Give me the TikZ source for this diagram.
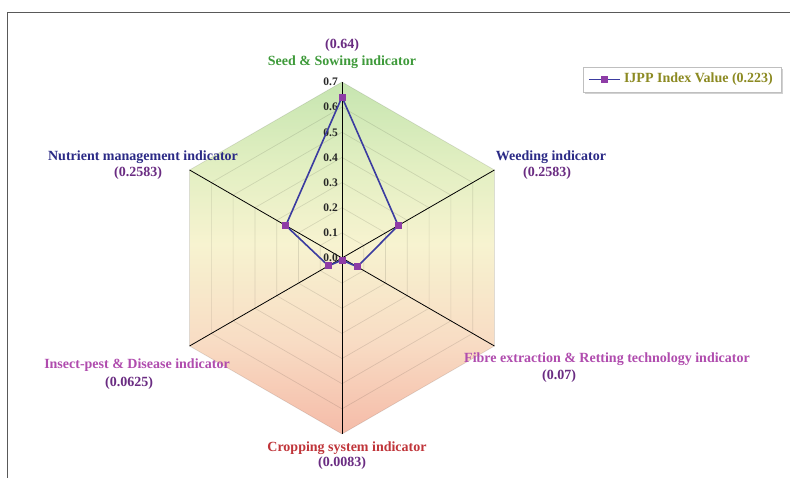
\documentclass[tikz,border=0pt]{standalone}
\usepackage{fontspec}
\setmainfont{Liberation Serif}
\usetikzlibrary{calc}
\definecolor{seedgreen}{HTML}{3E9A3A}
\definecolor{valpurple}{HTML}{6A2C82}
\definecolor{navyblue}{HTML}{2B2A86}
\definecolor{magentalab}{HTML}{B04CAE}
\definecolor{cropred}{HTML}{C0353A}
\definecolor{legolive}{HTML}{8C8A22}
\definecolor{lineblue}{HTML}{3B3CA0}
\definecolor{markpurple}{HTML}{8E3CA6}
\definecolor{topgreen}{HTML}{C6E5B0}
\definecolor{uppergreen}{HTML}{E2EFC2}
\definecolor{midyellow}{HTML}{F7F3D0}
\definecolor{lowerpeach}{HTML}{F8DCC4}
\definecolor{botpink}{HTML}{F5BBA8}
\pgfdeclareverticalshading{radarshade}{100bp}{color(0bp)=(botpink); color(25bp)=(botpink); color(38bp)=(lowerpeach); color(52bp)=(midyellow); color(63bp)=(uppergreen); color(75bp)=(topgreen); color(100bp)=(topgreen)}
\begin{document}
\begin{tikzpicture}[x=1pt,y=1pt,
  lab/.style={font=\bfseries\fontsize{14}{16}\selectfont, inner sep=0pt},
  ticklab/.style={font=\bfseries\fontsize{11.5}{13}\selectfont, inner sep=0pt, text=black!85, anchor=east},
  gridline/.style={draw=black, draw opacity=0.11, line width=0.7pt},
  spoke/.style={draw=black, line width=0.8pt},
  dataline/.style={draw=lineblue, line width=1.6pt, line join=round},
  sq/.style={rectangle, fill=markpurple, minimum size=7pt, inner sep=0pt},
  framestyle/.style={draw=black!65, line width=1pt},
  legendbox/.style={draw=black!25, fill=white, minimum width=198pt, minimum height=25pt, inner sep=0pt}
]
\useasboundingbox (0,0) rectangle (794,478);
\fill[white] (0,0) rectangle (794,478);
\draw[framestyle] (7,0) -- (7,465) -- (790,465);
\begin{scope}[shift={(342,220)}]
  \coordinate (O) at (0,0);
  \foreach \a/\n in {90/s,30/w,-30/f,-90/c,210/i,150/n} \coordinate (v\n) at (\a:176);
  \shade[shading=radarshade]
    (vs) -- (vw) -- (vf) -- (vc) -- (vi) -- (vn) -- cycle;
  \foreach \k in {1,...,7}{
    \draw[gridline] (90:{\k*176/7}) -- (30:{\k*176/7}) -- (-30:{\k*176/7}) -- (-90:{\k*176/7}) -- (210:{\k*176/7}) -- (150:{\k*176/7}) -- cycle;
  }
  \foreach \n in {s,w,f,c,i,n} \draw[spoke] (O) -- (v\n);
  \foreach \k in {0,...,7} \node[ticklab] (t\k) at (-4,{\k*176/7}) {0.\k};
  \coordinate (ds) at (90:160.9);
  \coordinate (dw) at (30:64.9);
  \coordinate (df) at (-30:17.6);
  \coordinate (dc) at (-90:2.1);
  \coordinate (di) at (210:15.7);
  \coordinate (dn) at (150:64.9);
  \draw[dataline] (ds) -- (dw) -- (df) -- (dc) -- (di) -- (dn) -- cycle;
  \foreach \n in {s,w,f,c,i,n} \node[sq] (m\n) at (d\n) {};
\end{scope}
% axis labels
\node[lab, text=valpurple] (v64) at (342,433) {(0.64)};
\node[lab, text=seedgreen] (seedlab) at (342,416) {Seed \& Sowing indicator};
\node[lab, text=navyblue] (nutlab) at (143,321) {Nutrient management indicator};
\node[lab, text=valpurple] (nutval) at (138,305) {(0.2583)};
\node[lab, text=navyblue] (weedlab) at (551,321) {Weeding indicator};
\node[lab, text=valpurple] (weedval) at (547,305) {(0.2583)};
\node[lab, text=magentalab] (inslab) at (137,113) {Insect-pest \& Disease indicator};
\node[lab, text=valpurple] (insval) at (129,95) {(0.0625)};
\node[lab, text=magentalab] (fiblab) at (607,119) {Fibre extraction \& Retting technology indicator};
\node[lab, text=valpurple] (fibval) at (559,102) {(0.07)};
\node[lab, text=cropred] (croplab) at (347,30) {Cropping system indicator};
\node[lab, text=valpurple] (cropval) at (342,15) {(0.0083)};
% legend
\fill[black!18] (585,384) rectangle (783,409);
\node[legendbox] (leg) at (682,398.5) {};
\coordinate (la) at ($(leg.west)+(6,0)$);
\coordinate (lb) at ($(leg.west)+(37,0)$);
\draw[dataline] (la) -- (lb);
\node[sq] (legm) at ($(la)!0.5!(lb)$) {};
\node[lab, text=legolive, anchor=west] (legtxt) at ($(lb)+(4,0)$) {IJPP Index Value (0.223)};
\end{tikzpicture}
\end{document}
